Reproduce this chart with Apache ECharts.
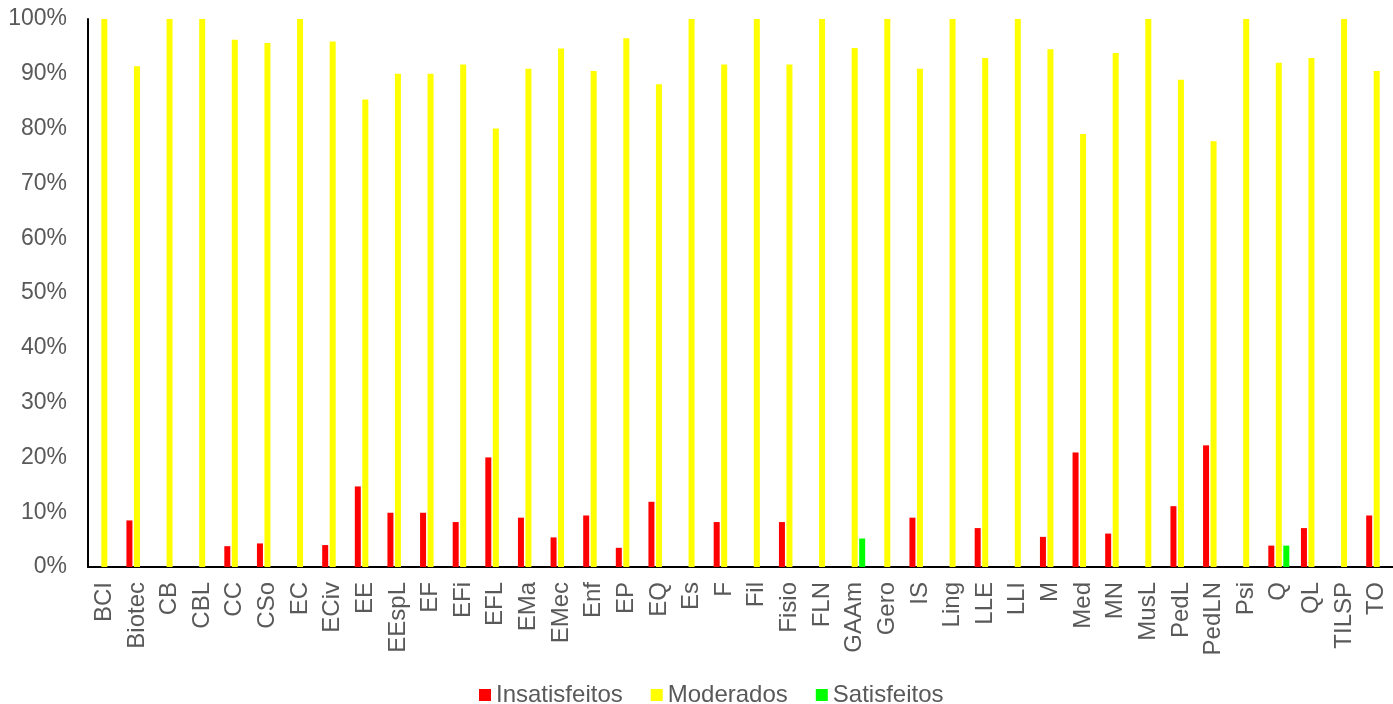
<!DOCTYPE html>
<html>
<head>
<meta charset="utf-8">
<script src="https://cdn.jsdelivr.net/npm/echarts@6/dist/echarts.min.js"></script>
<style>
html,body{margin:0;padding:0;background:#fff;}
#chart{width:1393px;height:704px;}
</style>
</head>
<body>
<div id="chart"></div>
<script>
const categories = ["BCI","Biotec","CB","CBL","CC","CSo","EC","ECiv","EE","EEspL","EF","EFi","EFL","EMa","EMec","Enf","EP","EQ","Es","F","Fil","Fisio","FLN","GAAm","Gero","IS","Ling","LLE","LLI","M","Med","MN","MusL","PedL","PedLN","Psi","Q","QL","TILSP","TO"];
const insatisfeitos = [0,8.5,0,0,3.8,4.3,0,4.0,14.7,9.9,9.9,8.2,20.0,9.0,5.4,9.4,3.5,11.9,0,8.2,0,8.2,0,0,0,9.0,0,7.1,0,5.5,20.9,6.1,0,11.1,22.2,0,3.9,7.1,0,9.4];
const moderados = [100,91.4,100,100,96.2,95.6,100,95.9,85.3,90.0,90.0,91.7,80.0,90.9,94.6,90.5,96.5,88.1,100,91.7,100,91.7,100,94.7,100,90.9,100,92.9,100,94.5,79.0,93.8,100,88.9,77.7,100,92.0,92.9,100,90.5];
const satisfeitos = [0,0,0,0,0,0,0,0,0,0,0,0,0,0,0,0,0,0,0,0,0,0,0,5.2,0,0,0,0,0,0,0,0,0,0,0,0,3.9,0,0,0];
const yTicks = [0,10,20,30,40,50,60,70,80,90,100];

const nz = a => a.map(v => v === 0 ? null : v);
const textColor = '#595959';
const font = '"Liberation Sans", Arial, sans-serif';

const chart = echarts.init(document.getElementById('chart'), null, {renderer:'canvas'});
chart.setOption({
  animation:false,
  backgroundColor:'#fff',
  textStyle:{fontFamily:font},
  grid:{left:88, right:-3, top:19, bottom:137, containLabel:false},
  legend:{
    top:678, left:474,
    itemWidth:12, itemHeight:12, itemGap:28,
    icon:'rect',
    textStyle:{color:textColor, fontSize:24, fontFamily:font},
    data:['Insatisfeitos','Moderados','Satisfeitos']
  },
  xAxis:{
    type:'category',
    data:categories,
    axisLine:{lineStyle:{color:'#000', width:2}},
    axisTick:{show:false},
    axisLabel:{rotate:90, color:textColor, fontSize:24, fontFamily:font, margin:15, interval:0},
    splitLine:{show:false}
  },
  yAxis:{
    type:'value', min:0, max:100, interval:10,
    axisLine:{show:true, lineStyle:{color:'#000', width:2}},
    axisTick:{show:false},
    splitLine:{show:false},
    axisLabel:{color:textColor, fontSize:23, fontFamily:font, margin:21,
      formatter: v => yTicks.includes(v) ? v + '%' : ''}
  },
  series:[
    {name:'Insatisfeitos', type:'bar', data:nz(insatisfeitos), barWidth:6, barGap:'25%', itemStyle:{color:'#FF0000'}},
    {name:'Moderados', type:'bar', data:nz(moderados), barWidth:6, barGap:'25%', itemStyle:{color:'#FFFF00'}},
    {name:'Satisfeitos', type:'bar', data:nz(satisfeitos), barWidth:6, barGap:'25%', itemStyle:{color:'#00FF00'}}
  ]
});
</script>
</body>
</html>
